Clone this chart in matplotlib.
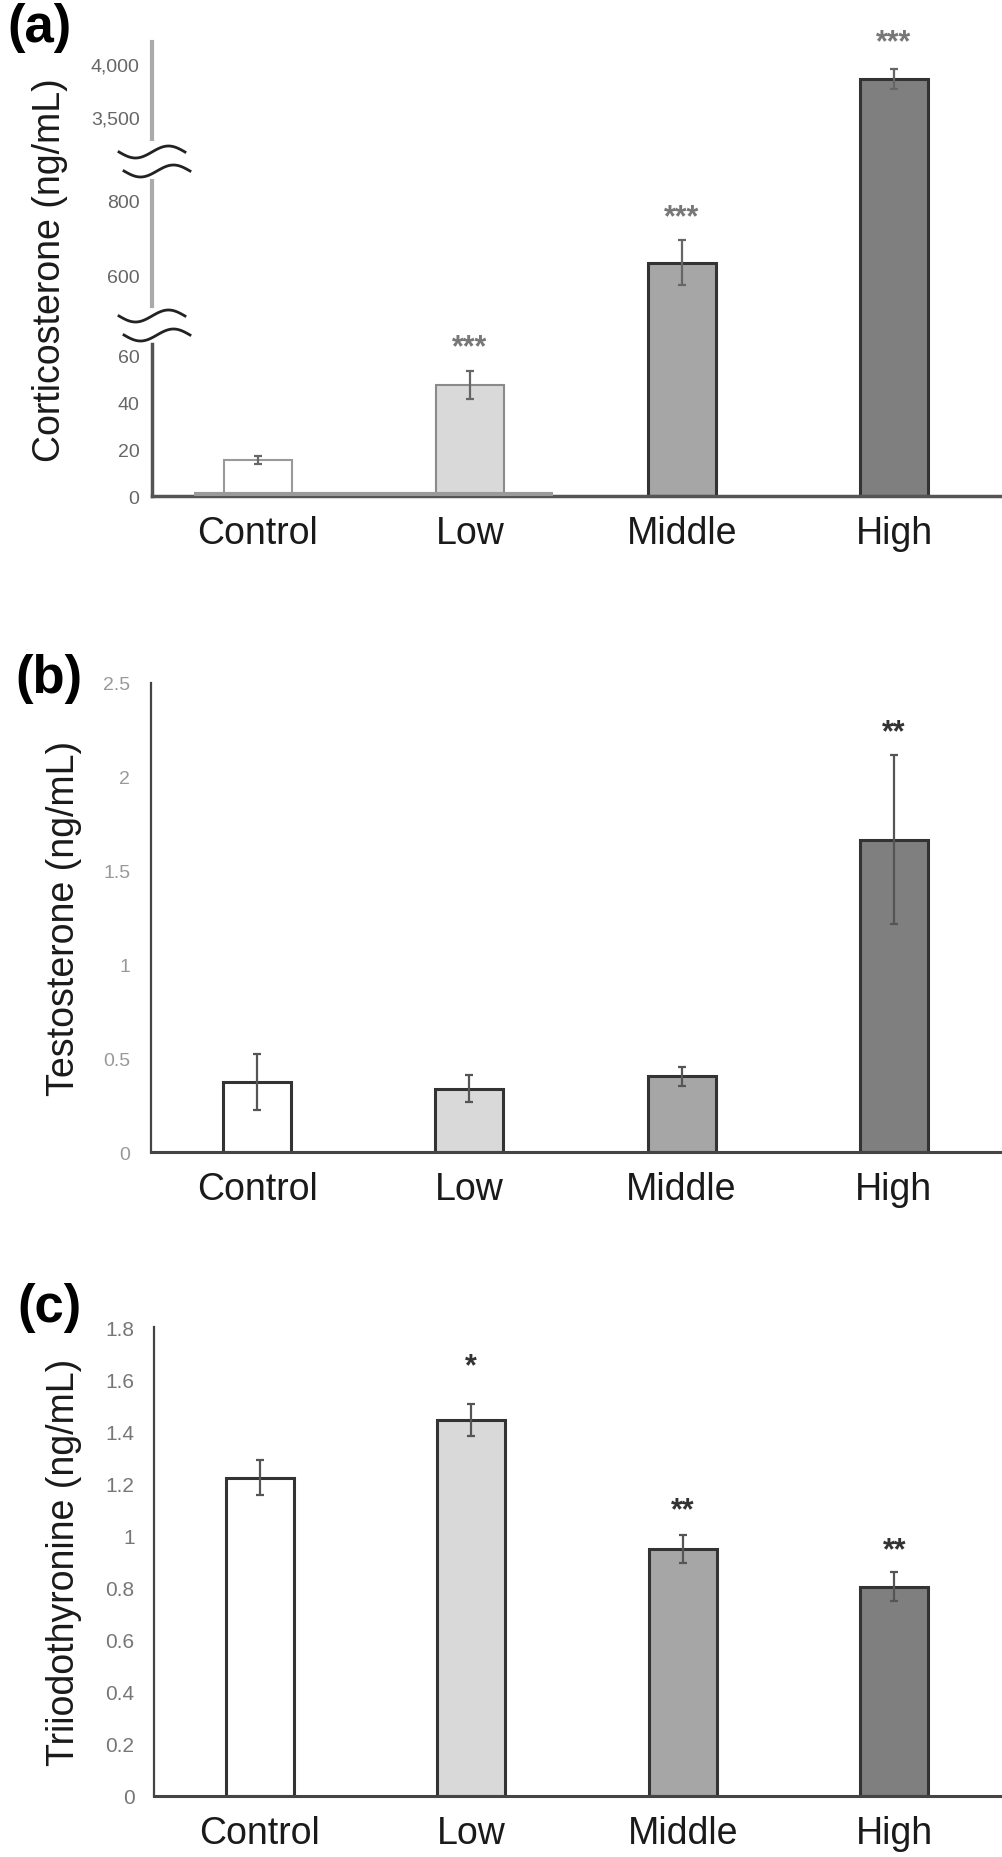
import numpy as np
import matplotlib
matplotlib.use("Agg")
from matplotlib import pyplot as plt

plt.rcParams['font.family'] = ['Liberation Sans', 'DejaVu Sans']

groups = ['Control', 'Low', 'Middle', 'High']
bar_colors = ['#ffffff', '#d9d9d9', '#a6a6a6', '#7f7f7f']

# (a) Corticosterone
cort_mean = [15.3, 47.5, 635, 3860]
cort_err = [1.6, 6.0, 60, 95]
cort_sig = ['', '***', '***', '***']

# (b) Testosterone
test_mean = [0.375, 0.337, 0.404, 1.665]
test_err = [0.15, 0.072, 0.05, 0.45]
test_sig = ['', '', '', '**']

# (c) Triiodothyronine
t3_mean = [1.222, 1.443, 0.948, 0.804]
t3_err = [0.068, 0.062, 0.052, 0.055]
t3_sig = ['', '*', '**', '**']

W, H = 1003, 1858
fig = plt.figure(figsize=(W / 100, H / 100), dpi=100)
x = np.arange(len(groups))
bw = 0.32

# broken axis for (a): value -> pixel height above baseline
brk_v = [0, 65, 520, 853, 3292, 4208, 6000]
brk_p = [0, 152, 190, 315, 357, 454, 644]


def fwd(v):
    return np.interp(v, brk_v, brk_p)


def inv(p):
    return np.interp(p, brk_p, brk_v)


def style_axes(ax, spine_col='#444444'):
    for s in ['top', 'right']:
        ax.spines[s].set_visible(False)
    ax.spines['left'].set_color(spine_col)
    ax.spines['left'].set_linewidth(1.6)
    ax.spines['bottom'].set_color('#444444')
    ax.spines['bottom'].set_linewidth(2.2)
    ax.set_xlim(-0.5, 3.5)
    ax.set_xticks(x)
    ax.set_xticklabels(groups, fontsize=27, color='#1a1a1a')
    ax.tick_params(axis='x', length=0, pad=14)
    ax.tick_params(axis='y', length=0)


def add_stars(ax, means, errs, sigs, col, offs):
    for i in range(len(groups)):
        if sigs[i]:
            ax.annotate(sigs[i], (x[i], means[i] + errs[i]), xytext=(0, offs[i]),
                        textcoords='offset points', ha='center', va='bottom',
                        fontsize=22, fontweight='bold', color=col, annotation_clip=False)


# ---------- (a) ----------
ax_a = fig.add_axes([152 / W, 1 - 497 / H, 848 / W, 454 / H])
ax_a.set_yscale('function', functions=(fwd, inv))
ax_a.set_ylim(0, 4208)
style_axes(ax_a)
ax_a.spines['left'].set_visible(False)
ax_a.spines['bottom'].set_color('#555555')
ax_a.spines['bottom'].set_linewidth(2.5)

edge_a = ['#999999', '#8a8a8a', '#333333', '#333333']
ax_a.bar(x, cort_mean, width=bw, color=bar_colors, edgecolor=edge_a, linewidth=[1.5, 1.5, 2.2, 2.2], zorder=2)
ax_a.errorbar(x, cort_mean, yerr=cort_err, fmt='none', ecolor='#666666', elinewidth=1.6,
              capsize=3, capthick=1.6, zorder=3)
# grey strip left at the baseline in the original figure
ax_a.plot([-0.30, 1.39], [1.0, 1.0], color='#9a9a9a', lw=3, zorder=3, solid_capstyle='butt')

yt = [0, 20, 40, 60, 600, 800, 3500, 4000]
ax_a.set_yticks(yt)
ax_a.set_yticklabels([f'{v:,}' for v in yt], fontsize=14, color='#666666')
ax_a.tick_params(axis='y', pad=9)

# segmented y spine
ax_a.plot([-0.5, -0.5], [0, 65], color='#555555', lw=2.5, clip_on=False, zorder=4)
ax_a.plot([-0.5, -0.5], [520, 853], color='#aaaaaa', lw=3, clip_on=False, zorder=4)
ax_a.plot([-0.5, -0.5], [3292, 4208], color='#aaaaaa', lw=3, clip_on=False, zorder=4)

# wavy break marks (pixel offsets converted to axes fraction)
aw, ah = 848.0, 454.0
t = np.linspace(-1, 1, 60)
for cy, dx in [(344, 0), (325, 5), (180, 0), (161, 5)]:
    xs = (dx + 33 * t) / aw
    ys = (cy + 6 * np.sin(np.pi * t)) / ah
    ax_a.plot(xs, ys, color='#222222', lw=2, transform=ax_a.transAxes, clip_on=False, zorder=5)

ax_a.set_ylabel('Corticosterone (ng/mL)', fontsize=27, color='#1a1a1a')
ax_a.yaxis.set_label_coords(-0.099, 0.5)
add_stars(ax_a, cort_mean, cort_err, cort_sig, '#777777', [0, 6, 6, 8])

# ---------- (b) ----------
ax_b = fig.add_axes([151 / W, 1 - 1153 / H, 849 / W, 469 / H])
style_axes(ax_b)
ax_b.bar(x, test_mean, width=bw, color=bar_colors, edgecolor='#333333', linewidth=2.2, zorder=2)
ax_b.errorbar(x, test_mean, yerr=test_err, fmt='none', ecolor='#555555', elinewidth=1.6,
              capsize=3, capthick=1.6, zorder=3)
ax_b.set_ylim(0, 2.5)
ax_b.set_yticks([0, 0.5, 1, 1.5, 2, 2.5])
ax_b.set_yticklabels(['0', '0.5', '1', '1.5', '2', '2.5'], fontsize=14, color='#999999')
ax_b.tick_params(axis='y', pad=15)
ax_b.set_ylabel('Testosterone (ng/mL)', fontsize=27, color='#1a1a1a')
ax_b.yaxis.set_label_coords(-0.081, 0.5)
add_stars(ax_b, test_mean, test_err, test_sig, '#333333', [0, 0, 0, 6])

# ---------- (c) ----------
ax_c = fig.add_axes([154 / W, 1 - 1797 / H, 846 / W, 469 / H])
style_axes(ax_c)
ax_c.bar(x, t3_mean, width=bw, color=bar_colors, edgecolor='#333333', linewidth=2.2, zorder=2)
ax_c.errorbar(x, t3_mean, yerr=t3_err, fmt='none', ecolor='#555555', elinewidth=1.6,
              capsize=3, capthick=1.6, zorder=3)
ax_c.set_ylim(0, 1.8)
c_ticks = [0, 0.2, 0.4, 0.6, 0.8, 1, 1.2, 1.4, 1.6, 1.8]
ax_c.set_yticks(c_ticks)
ax_c.set_yticklabels(['0', '0.2', '0.4', '0.6', '0.8', '1', '1.2', '1.4', '1.6', '1.8'],
                     fontsize=15, color='#777777')
ax_c.tick_params(axis='y', pad=14)
ax_c.set_ylabel('Triiodothyronine (ng/mL)', fontsize=27, color='#1a1a1a')
ax_c.yaxis.set_label_coords(-0.085, 0.5)
add_stars(ax_c, t3_mean, t3_err, t3_sig, '#333333', [0, 16, 7, 5])

# panel letters
for lab, px, py in [('(a)', 40, 28), ('(b)', 49, 679), ('(c)', 50, 1308)]:
    fig.text(px / W, 1 - py / H, lab, fontsize=38, fontweight='bold', ha='center', va='center')

fig.savefig('out.png', dpi=100)
